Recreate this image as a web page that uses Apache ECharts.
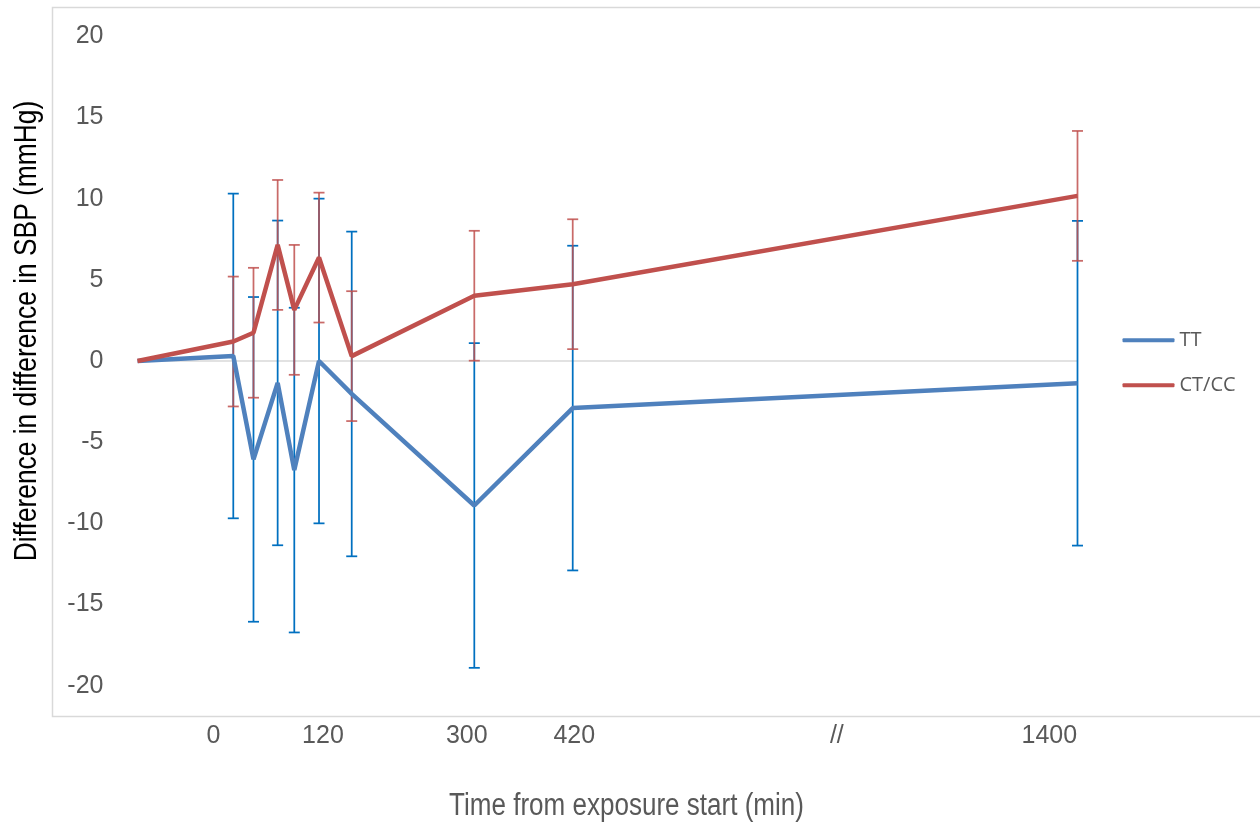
<!DOCTYPE html>
<html>
<head>
<meta charset="utf-8">
<script src="https://cdn.jsdelivr.net/npm/echarts@6/dist/echarts.min.js"></script>
<style>
html,body{margin:0;padding:0;background:#fff;}
#chart{width:1260px;height:824px;}
</style>
</head>
<body>
<div id="chart"></div>
<script>
// Plotted position of each measurement along the (broken) time axis, in axis units 0..100
const xPos = [0, 10.19, 12.34, 14.91, 16.68, 19.31, 22.79, 35.83, 46.30, 100];
const ttValues = [0, 0.31, -6.06, -1.35, -6.72, 0, -2.03, -8.9, -2.9, -1.37];
const ccValues = [0, 1.2, 1.74, 7.15, 3.15, 6.37, 0.3, 4.02, 4.73, 10.17];
const ttErr = [null, 10, 10, 10, 10, 10, 10, 10, 10, 10];
const ccErr = [null, 4, 4, 4, 4, 4, 4, 4, 4, 4];
// x tick labels and where they sit on the axis
const tickPos = [8.07, 19.73, 35.03, 46.47, 74.4, 97.0];
const tickLabels = ['0', '120', '300', '420', '//', '1400'];
const seriesNames = ['TT', 'CT/CC'];

const SANS = "'Liberation Sans', Arial, sans-serif";

function pairs(vals) { return xPos.map((x, i) => [x, vals[i]]); }
function bars(vals, errs) {
  const out = [];
  vals.forEach((v, i) => { if (errs[i] != null) out.push([xPos[i], v - errs[i], v + errs[i]]); });
  return out;
}
function errRender(color, opacity) {
  return function (params, api) {
    const x = api.value(0);
    const lo = api.coord([x, api.value(1)]);
    const hi = api.coord([x, api.value(2)]);
    const hw = 5.5;
    const st = { stroke: color, lineWidth: 1.75, opacity: opacity };
    return {
      type: 'group',
      children: [
        { type: 'line', shape: { x1: hi[0], y1: hi[1], x2: lo[0], y2: lo[1] }, style: st },
        { type: 'line', shape: { x1: hi[0] - hw, y1: hi[1], x2: hi[0] + hw, y2: hi[1] }, style: st },
        { type: 'line', shape: { x1: lo[0] - hw, y1: lo[1], x2: lo[0] + hw, y2: lo[1] }, style: st }
      ]
    };
  };
}

const chart = echarts.init(document.getElementById('chart'));
chart.setOption({
  animation: false,
  backgroundColor: '#fff',
  grid: { left: 137.5, right: 182.5, top: 36.3, bottom: 138.3 },
  xAxis: {
    type: 'value', min: 0, max: 100,
    axisLine: { show: false }, axisTick: { show: false }, splitLine: { show: false },
    axisLabel: {
      customValues: tickPos,
      formatter: function (v) {
        let best = 0;
        tickPos.forEach((p, i) => { if (Math.abs(p - v) < Math.abs(tickPos[best] - v)) best = i; });
        return tickLabels[best];
      },
      fontFamily: SANS, fontSize: 25, color: '#595959', margin: 37, lineHeight: 27
    }
  },
  yAxis: {
    type: 'value', min: -20, max: 20, interval: 5,
    axisLine: { show: false }, axisTick: { show: false },
    splitLine: {
      show: true,
      lineStyle: {
        width: 1.5,
        color: ['rgba(0,0,0,0)', 'rgba(0,0,0,0)', 'rgba(0,0,0,0)', 'rgba(0,0,0,0)', '#d9d9d9',
                'rgba(0,0,0,0)', 'rgba(0,0,0,0)', 'rgba(0,0,0,0)', 'rgba(0,0,0,0)']
      }
    },
    axisLabel: { fontFamily: SANS, fontSize: 25, color: '#595959', margin: 34 }
  },
  legend: {
    orient: 'vertical', left: 1117.5, top: 323.3,
    data: seriesNames,
    icon: 'roundRect', itemWidth: 52, itemHeight: 4, itemGap: 21,
    textStyle: { fontFamily: "'Open Sans', sans-serif", fontSize: 20, color: '#595959', lineHeight: 24 }
  },
  graphic: [
    { type: 'rect', z: -10, silent: true, shape: { x: 52.5, y: 7.5, width: 1300, height: 709 },
      style: { fill: 'none', stroke: '#d9d9d9', lineWidth: 1.5 } },
    { type: 'text', x: 27, y: 331, rotation: Math.PI / 2, scaleX: 0.85,
      style: { text: 'Difference in difference in SBP (mmHg)', font: '31px ' + SANS, fill: '#000',
               align: 'center', verticalAlign: 'middle' } },
    { type: 'text', x: 626.5, y: 806, scaleX: 0.84,
      style: { text: 'Time from exposure start (min)', font: '31px ' + SANS, fill: '#595959',
               align: 'center', verticalAlign: 'middle' } }
  ],
  series: [
    { type: 'custom', name: 'TT err', z: 2, renderItem: errRender('#0070c0', 1), data: bars(ttValues, ttErr),
      encode: { x: 0, y: [1, 2] }, silent: true },
    { type: 'custom', name: 'CT/CC err', z: 3, renderItem: errRender('#c0504d', 0.85), data: bars(ccValues, ccErr),
      encode: { x: 0, y: [1, 2] }, silent: true },
    { type: 'line', name: seriesNames[0], z: 4, data: pairs(ttValues), symbol: 'none', showSymbol: false,
      color: '#4f81bd', lineStyle: { width: 4.5, color: '#4f81bd' } },
    { type: 'line', name: seriesNames[1], z: 5, data: pairs(ccValues), symbol: 'none', showSymbol: false,
      color: '#c0504d', lineStyle: { width: 4.5, color: '#c0504d' } }
  ]
});
</script>
</body>
</html>
